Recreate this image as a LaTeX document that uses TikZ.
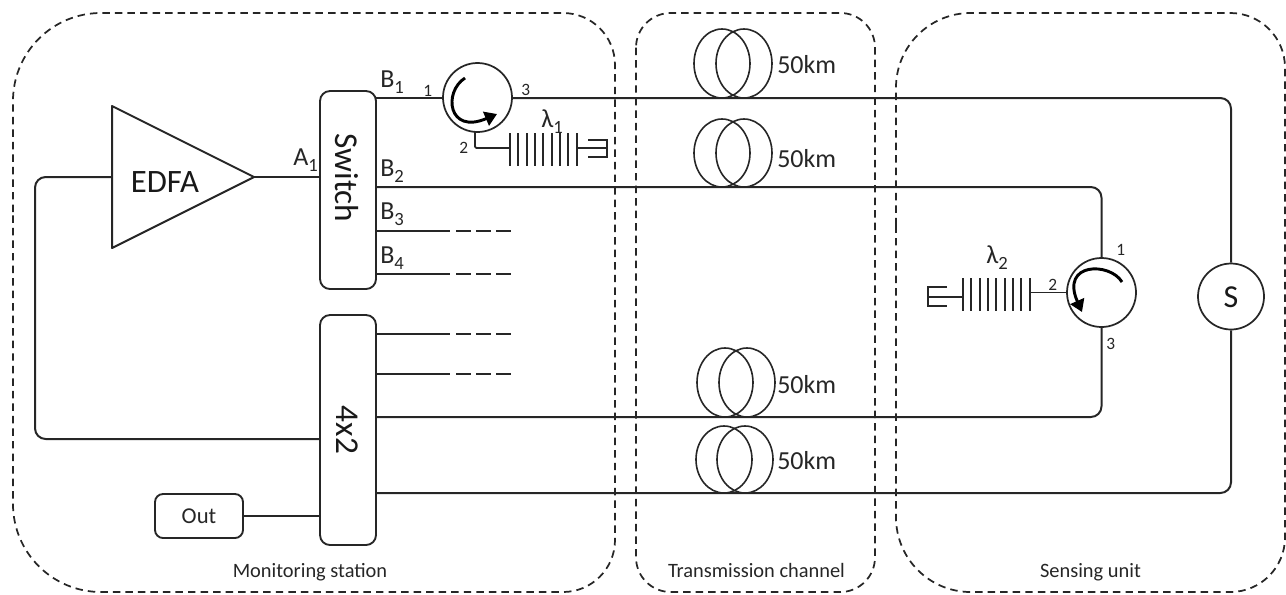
\documentclass[tikz,border=0pt]{standalone}
\usepackage{fontspec}
\setmainfont{Carlito}
\usetikzlibrary{arrows.meta,shapes.geometric}
\newcommand{\lowidx}[1]{\raisebox{-4.5pt}{\fontsize{14}{14}\selectfont #1}}
\tikzset{
  x=0.75pt,y=-0.75pt,
  wire/.style={line width=1.5pt,color=black!85},
  thin wire/.style={line width=1.3pt,color=black!85},
  panel/.style={draw=black!85,line width=1.3pt,dash pattern=on 5.6pt off 3.8pt},
  block/.style={draw=black!85,line width=1.4pt,rounded corners=7.5pt,fill=white},
  lab/.style={font=\fontsize{15.3}{17}\selectfont,text=black!85,inner sep=0pt,anchor=base},
  big/.style={font=\fontsize{25}{27}\selectfont,text=black!90,inner sep=0pt},
  mid/.style={font=\fontsize{19.5}{21}\selectfont,text=black!85,inner sep=0pt,anchor=base west},
  num/.style={font=\fontsize{13}{15}\selectfont,text=black!85,inner sep=0pt,anchor=base west},
  circ/.style={draw=black!85,line width=1.3pt,circle,minimum size=#1,inner sep=0pt,fill=white},
  spin/.style={line width=2.2pt,color=black,-{Triangle[length=9pt,width=11pt]}},
  coil/.style={draw=black!85,line width=1.2pt,ellipse,inner sep=0pt,minimum width=42pt},
  bar/.style={line width=1.3pt,color=black!85},
  stub/.style={wire,dash pattern=on 11.25pt off 3.75pt}
}
% name, left x, right x, centre y, full height, label base y
\newcommand{\fibercoil}[6]{%
  \node[coil,minimum height=#5*.75pt] (#1a) at (#2,#4) {};
  \node[coil,minimum height=#5*.75pt] (#1b) at (#3,#4) {};
  \node[mid] (#1t) at (777,#6) {50km};
}
\begin{document}
\begin{tikzpicture}
\useasboundingbox (0,0) rectangle (1286,594);
% panels
\draw[panel] (13,300) [rounded corners=66pt] -- (13,13) [rounded corners=39pt] -- (615,13) -- (615,592) [rounded corners=66pt] -- (13,592) -- cycle;
\draw[panel,rounded corners=26pt] (636,13) rectangle (875,592);
\draw[panel] (896,300) [rounded corners=56pt] -- (896,13) [rounded corners=41pt] -- (1285,13) -- (1285,592) [rounded corners=56pt] -- (896,592) -- cycle;
\node[lab] (mon) at (310,577) {Monitoring station};
\node[lab] (tra) at (756.5,577) {Transmission channel};
\node[lab] (sen) at (1090.5,577) {Sensing unit};
% coordinates
\coordinate (b1) at (376,98);
\coordinate (b2) at (376,187);
\coordinate (b3) at (376,231);
\coordinate (b4) at (376,274);
\coordinate (c1) at (376,334);
\coordinate (c2) at (376,374);
\coordinate (c3) at (376,417);
\coordinate (c4) at (376,493);
\foreach \n/\y in {b3/231,b4/274,c1/334,c2/374}{
  \coordinate (s\n) at (450,\y);
  \coordinate (d\n) at (456,\y);
  \coordinate (e\n) at (511,\y);
}
\coordinate (a1) at (320,177);
\coordinate (fbk) at (320,439);
\coordinate (ob) at (320,516);
% blocks
\node[block,minimum width=56*.75pt,minimum height=198*.75pt,inner sep=0pt] (sw) at (348,190) {};
\node[big,rotate=-90] (swt) at (347,178) {Switch};
\node[block,minimum width=56*.75pt,minimum height=230*.75pt,inner sep=0pt] (mux) at (348,430) {};
\node[big,rotate=-90] (muxt) at (347,430) {4x2};
\node[block,rounded corners=6pt,minimum width=88*.75pt,minimum height=44*.75pt,inner sep=0pt] (out) at (199,516) {};
\node[font=\fontsize{17}{19}\selectfont,text=black!85,inner sep=0pt,anchor=base] (outt) at (199,523) {Out};
\coordinate (e1) at (112,106);
\coordinate (e2) at (112,248);
\coordinate (e3) at (254,177);
\draw[wire,line join=round] (e1) -- (e3) -- (e2) -- cycle;
\node[font=\fontsize{24.5}{26}\selectfont,text=black!90,inner sep=0pt,anchor=base] (edfa) at (165,192) {EDFA};
\coordinate (ein) at (112,177);
% coils
\fibercoil{fa}{722}{744}{63.5}{69}{73}
\fibercoil{fb}{722}{744}{153}{68}{167}
\fibercoil{fc}{725}{747}{382.5}{69}{393}
\fibercoil{fd}{724}{745}{459.5}{67}{469}
% circulators
\node[circ=69*.75pt] (cir1) at (477.5,97.5) {};
\node[circ=69*.75pt] (cir2) at (1101.5,292.5) {};
\node[circ=66*.75pt] (s) at (1231,296.5) {};
\node[font=\fontsize{24}{26}\selectfont,text=black!90,inner sep=0pt] (st) at (1231,297) {S};
\draw[spin] (465,78) .. controls (443,92) and (448,135) .. (497,114);
\draw[spin] (1122,282) .. controls (1110,262) and (1060,262) .. (1082,312);
% wires
\draw[wire] (e3) -- (a1);
\draw[wire] (b1) -- (b1 -| cir1.west);
\draw[wire,rounded corners=8pt] (b1 -| cir1.east) -- (b1 -| s) -- (s.north);
\draw[wire,rounded corners=8pt] (b2) -- (b2 -| cir2) -- (cir2.north);
\draw[wire,rounded corners=8pt] (c3) -- (c3 -| cir2) -- (cir2.south);
\draw[wire,rounded corners=8pt] (c4) -- (c4 -| s) -- (s.south);
\draw[wire,rounded corners=8pt] (ein) -- (35,177) -- (35,439) -- (fbk);
\draw[wire] (out) -- (ob);
\foreach \n in {b3,b4,c1,c2}{
  \draw[wire] (\n) -- (s\n);
  \draw[stub] (d\n) -- (e\n);
}
% gratings
\coordinate (g1t) at (475,132);
\coordinate (g1) at (510,148);
\coordinate (g1e) at (577,148);
\coordinate (g1f) at (607,148);
\draw[thin wire,rounded corners=1pt] (g1t) -- (475,148) -- (g1);
\foreach \i in {0,...,8}{\draw[bar] (510+\i*8.33,133) -- (510+\i*8.33,166);}
\draw[thin wire] (g1e) -- (g1f);
\draw[thin wire] (588,140) -- (607,140) -- (607,157) -- (588,157);
\coordinate (g2) at (1030,292.5);
\coordinate (g2s) at (963,297);
\draw[thin wire] (cir2.west) -- (g2);
\foreach \i in {0,...,8}{\draw[bar] (963+\i*8.33,278) -- (963+\i*8.33,311);}
\draw[thin wire] (g2s) -- (928,297);
\draw[thin wire] (947,287) -- (928,287) -- (928,306) -- (947,306);
% labels
\node[mid] (la1) at (293,165) {A\lowidx{1}};
\node[mid] (lb1) at (380,87) {B\lowidx{1}};
\node[mid] (lb2) at (380,176) {B\lowidx{2}};
\node[mid] (lb3) at (380,219) {B\lowidx{3}};
\node[mid] (lb4) at (380,263) {B\lowidx{4}};
\node[num] (n11) at (423,96) {1};
\node[num] (n13) at (521,95) {3};
\node[num] (n12) at (459,153) {2};
\node[num] (n21) at (1116,255) {1};
\node[num] (n22) at (1048,290) {2};
\node[num] (n23) at (1106,349) {3};
\node[mid] (l1) at (541,127) {λ\lowidx{1}};
\node[mid] (l2) at (986,263) {λ\lowidx{2}};
\end{tikzpicture}
\end{document}
